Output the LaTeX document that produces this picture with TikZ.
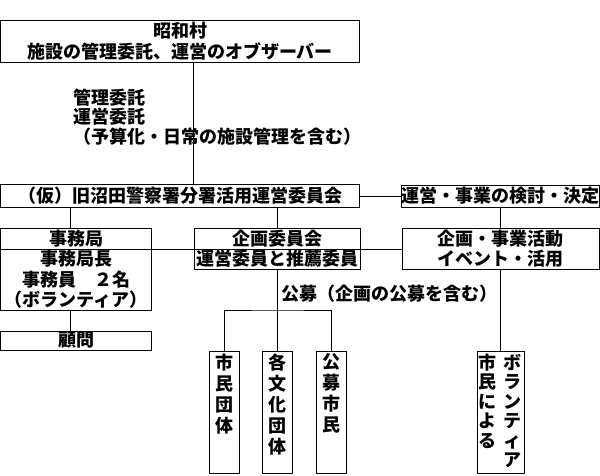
\documentclass[tikz,border=0pt]{standalone}
\usepackage{fontspec}
\setmainfont{Noto Sans CJK JP}
\tikzset{
  box/.style={draw, line width=0.9pt, inner sep=0pt, align=center},
  vtext/.style={inner sep=0pt, align=center, anchor=north, font=\bfseries\fontsize{18}{21}\selectfont},
  conn/.style={line width=0.9pt}
}
\begin{document}
\begin{tikzpicture}[x=1pt, y=-1pt, font=\bfseries\fontsize{18}{20.5}\selectfont]
\useasboundingbox (0,0) rectangle (600,476);
% top and committee
\node[box, minimum width=359, minimum height=42] (mura) at (180,41) {昭和村\\施設の管理委託、運営のオブザーバー};
\node[inner sep=0pt, align=left, anchor=west, font=\bfseries\fontsize{18}{19.5}\selectfont] (itaku) at (73,117) {管理委託\\運営委託\\（予算化・日常の施設管理を含む）};
\node[box, minimum width=359, minimum height=23] (iinkai) at (180,196) {（仮）旧沼田警察署分署活用運営委員会};
\node[box, minimum width=197, minimum height=22] (kento) at (500.5,196) {運営・事業の検討・決定};
% second row
\node[box, minimum width=151, minimum height=21] (jimuhead) at (76,238.5) {事務局};
\node[box, minimum width=151, minimum height=61] (jimubody) at (76,279.5) {事務局長\\事務員　２名\\（ボランティア）};
\node[box, minimum width=151, minimum height=19] (komon) at (76,340.5) {顧問};
\node[box, minimum width=166, minimum height=21] (kikakuhead) at (277,238.5) {企画委員会};
\node[box, minimum width=166, minimum height=20] (kikakubody) at (277,259) {運営委員と推薦委員};
\node[box, minimum width=197, minimum height=41] (jigyo) at (500.5,248.5) {企画・事業活動\\イベント・活用};
\node[inner sep=0pt, anchor=west] (koubolabel) at (281,294) {公募（企画の公募を含む）};
% vertical boxes
\node[box, minimum width=30, minimum height=122] (shimin) at (224,412) {};
\node[box, minimum width=30, minimum height=122] (bunka) at (277,412) {};
\node[box, minimum width=30, minimum height=122] (koubo) at (331,412) {};
\node[box, minimum width=47, minimum height=122] (vol) at (500.5,412) {};
\node[vtext] (shimintxt) at ([yshift=-3pt]shimin.north) {市\\民\\団\\体};
\node[vtext] (bunkatxt) at ([yshift=-3pt]bunka.north) {各\\文\\化\\団\\体};
\node[vtext] (koubotxt) at ([yshift=-3pt]koubo.north) {公\\募\\市\\民};
\node[vtext, font=\bfseries\fontsize{18}{19.5}\selectfont] (voltxta) at ([xshift=-13.5pt, yshift=-3pt]vol.north) {市\\民\\に\\よ\\る};
\node[vtext, font=\bfseries\fontsize{18}{19.5}\selectfont] (voltxtb) at ([xshift=11.5pt, yshift=-3pt]vol.north) {ボ\\ラ\\ン\\テ\\ィ\\ア};
% connectors
\coordinate (jtop) at ([xshift=-6pt]jimuhead.north);
\coordinate (jbot) at ([xshift=-6pt]jimubody.south);
\coordinate (bus) at (277,310);
\draw[conn] (mura.south -| kikakuhead.west) -- (iinkai.north -| kikakuhead.west);
\draw[conn] (iinkai.east) -- (kento.west);
\draw[conn] (jtop) -- (jtop |- iinkai.south);
\draw[conn] (kikakuhead.north) -- (kikakuhead.north |- iinkai.south);
\draw[conn] (kento.south) -- (jigyo.north);
\draw[conn] (jimuhead.south east) -- (kikakuhead.south west);
\draw[conn] (kikakuhead.south east) -- (kikakuhead.south east -| jigyo.west);
\draw[conn] (jbot) -- (jbot |- komon.north);
\draw[conn] (kikakubody.south) -- (bunka.north);
\draw[conn] (shimin.north) |- (bus) -| (koubo.north);
\draw[conn] (jigyo.south) -- (vol.north);
\end{tikzpicture}
\end{document}
